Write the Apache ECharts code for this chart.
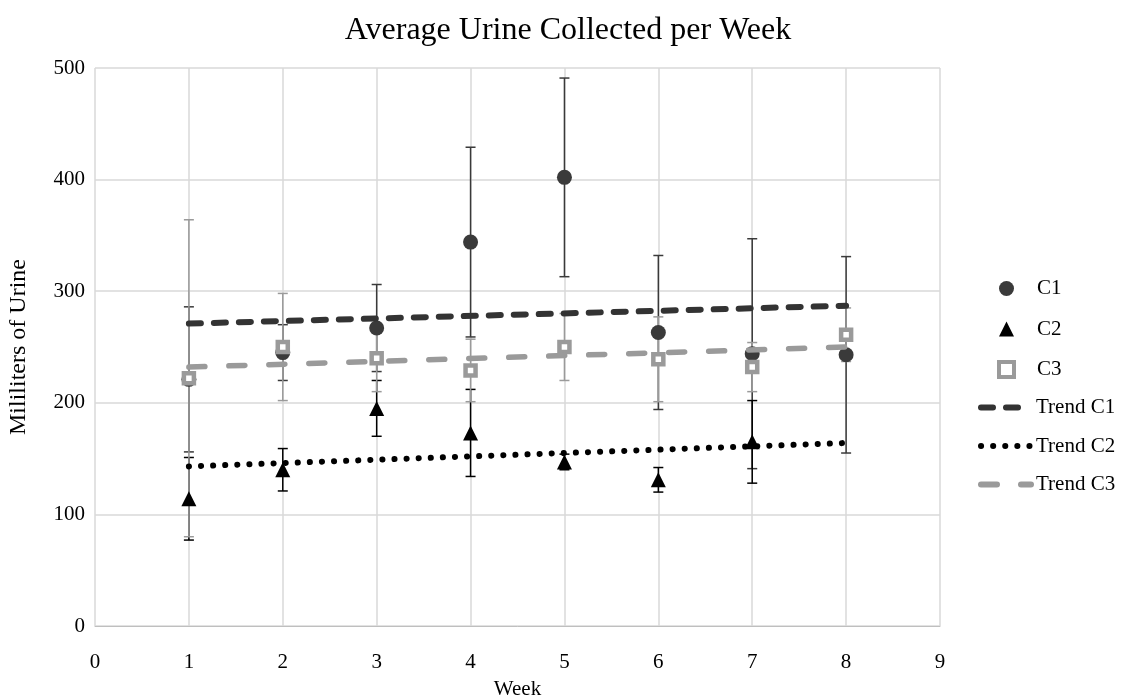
<!DOCTYPE html>
<html>
<head>
<meta charset="utf-8">
<script src="https://cdn.jsdelivr.net/npm/echarts@6/dist/echarts.min.js"></script>
<style>html,body{margin:0;padding:0;background:#fff}#c{width:1136px;height:698px}</style>
</head>
<body>
<div id="c"></div>
<script>
const weeks = [1, 2, 3, 4, 5, 6, 7, 8];
const c1 = [221, 245, 267, 344, 402, 263, 244, 243];
const c1Err = [65, 25, 39, 85, 89, 69, 103, 88];
const c2 = [114, 140, 195, 173, 147, 131, 165, null];
const c2Err = [37, 19, 25, 39, 7, 11, 37, null];
const c3 = [222, 250, 240, 229, 250, 239, 232, 261];
const c3Err = [142, 48, 30, 28, 30, 38, 22, 24];
const trendX = [1, 8];
const trendC1 = [271, 287];
const trendC2 = [143, 164];
const trendC3 = [232, 250];
const xTicks = [0, 1, 2, 3, 4, 5, 6, 7, 8, 9];
const yTicks = [0, 100, 200, 300, 400, 500];

const FONT = '"Liberation Serif", "DejaVu Serif", serif';
const colC1 = '#3a3a3a', colC2 = '#000000', colC3 = '#9a9a9a';
const dashC1 = [12, 13], dashC2 = [0.1, 12], dashC3 = [16, 24];

function pts(vals) { return weeks.map((w, i) => vals[i] == null ? null : [w, vals[i]]).filter(p => p); }
function errData(vals, errs) {
  return weeks.map((w, i) => vals[i] == null ? null : [w, vals[i] - errs[i], vals[i] + errs[i]]).filter(p => p);
}
function errSeries(name, vals, errs, color, z) {
  return {
    name: name + ' err', type: 'custom', z: z, silent: true,
    data: errData(vals, errs),
    renderItem: function (params, api) {
      const lo = api.coord([api.value(0), api.value(1)]);
      const hi = api.coord([api.value(0), api.value(2)]);
      const hw = 5;
      const st = { stroke: color, lineWidth: 1.5 };
      return {
        type: 'group', children: [
          { type: 'line', shape: { x1: lo[0], y1: lo[1], x2: hi[0], y2: hi[1] }, style: st },
          { type: 'line', shape: { x1: lo[0] - hw, y1: lo[1], x2: lo[0] + hw, y2: lo[1] }, style: st },
          { type: 'line', shape: { x1: hi[0] - hw, y1: hi[1], x2: hi[0] + hw, y2: hi[1] }, style: st }
        ]
      };
    }
  };
}
function trend(name, vals, color, dash, width, z) {
  return {
    name: name, type: 'line', z: z, symbol: 'none', silent: true,
    data: trendX.map((x, i) => [x, vals[i]]),
    lineStyle: { color: color, width: width, type: dash, cap: 'round' },
    itemStyle: { color: color }
  };
}
const legendText = { fontFamily: FONT, fontSize: 21, color: '#000', lineHeight: 20 };

const chart = echarts.init(document.getElementById('c'), null, { renderer: 'canvas' });
chart.setOption({
  animation: false,
  backgroundColor: '#ffffff',
  textStyle: { fontFamily: FONT },
  title: {
    text: 'Average Urine Collected per Week', left: 'center', top: 10,
    textStyle: { fontFamily: FONT, fontSize: 32, fontWeight: 'normal', color: '#000' }
  },
  grid: { left: 95, right: 196, top: 68, bottom: 72, outerBoundsMode: 'none', containLabel: false },
  legend: [
    {
      orient: 'vertical', left: 997, top: 278, padding: 0, itemWidth: 15, itemHeight: 15, itemGap: 19.5,
      textStyle: Object.assign({ padding: [0, 0, 0, 18] }, legendText),
      data: [
        { name: 'C1', icon: 'circle', itemStyle: { color: colC1 } },
        { name: 'C2', icon: 'triangle', itemStyle: { color: colC2 } },
        { name: 'C3', icon: 'rect', itemStyle: { color: '#ffffff', borderColor: colC3, borderWidth: 4 } }
      ]
    },
    {
      orient: 'vertical', left: 978, top: 397, padding: 0, itemWidth: 50, itemHeight: 15, itemGap: 17.5,
      textStyle: legendText,
      data: [
        { name: 'Trend C1', itemStyle: { opacity: 0 }, lineStyle: { color: '#333333', width: 6, type: dashC1, cap: 'round' } },
        { name: 'Trend C2', itemStyle: { opacity: 0 }, lineStyle: { color: '#000000', width: 6, type: dashC2, cap: 'round' } },
        { name: 'Trend C3', itemStyle: { opacity: 0 }, lineStyle: { color: '#9a9a9a', width: 6, type: dashC3, cap: 'round' } }
      ]
    }
  ],
  xAxis: {
    type: 'value', min: xTicks[0], max: xTicks[xTicks.length - 1], interval: 1,
    name: 'Week', nameLocation: 'middle', nameGap: 53,
    nameTextStyle: { fontFamily: FONT, fontSize: 21, color: '#000' },
    axisLine: { show: true, lineStyle: { color: '#bfbfbf', width: 1 } },
    axisTick: { show: false },
    axisLabel: { fontFamily: FONT, fontSize: 21, color: '#000', margin: 26 },
    splitLine: { show: true, lineStyle: { color: '#d9d9d9', width: 1.5 } }
  },
  yAxis: {
    type: 'value', min: yTicks[0], max: yTicks[yTicks.length - 1], interval: 100,
    name: 'Mililiters of Urine', nameLocation: 'middle', nameGap: 64,
    nameTextStyle: { fontFamily: FONT, fontSize: 24, color: '#000' },
    axisLine: { show: false }, axisTick: { show: false },
    axisLabel: { fontFamily: FONT, fontSize: 21, color: '#000', margin: 10 },
    splitLine: { show: true, lineStyle: { color: '#d9d9d9', width: 1.5 } }
  },
  series: [
    errSeries('C1', c1, c1Err, colC1, 2),
    errSeries('C2', c2, c2Err, colC2, 2),
    errSeries('C3', c3, c3Err, colC3, 2),
    { name: 'C1', type: 'scatter', z: 3, symbol: 'circle', symbolSize: 15, data: pts(c1), itemStyle: { color: colC1, opacity: 1 } },
    { name: 'C2', type: 'scatter', z: 3, symbol: 'triangle', symbolSize: 15, data: pts(c2), itemStyle: { color: colC2, opacity: 1 } },
    { name: 'C3', type: 'scatter', z: 4, symbol: 'rect', symbolSize: 10, data: pts(c3), itemStyle: { color: '#ffffff', borderColor: colC3, borderWidth: 4.5, opacity: 1 } },
    trend('Trend C1', trendC1, '#333333', dashC1, 6, 5),
    trend('Trend C2', trendC2, '#000000', dashC2, 6, 5),
    trend('Trend C3', trendC3, '#9a9a9a', dashC3, 5.5, 5)
  ]
});
</script>
</body>
</html>
